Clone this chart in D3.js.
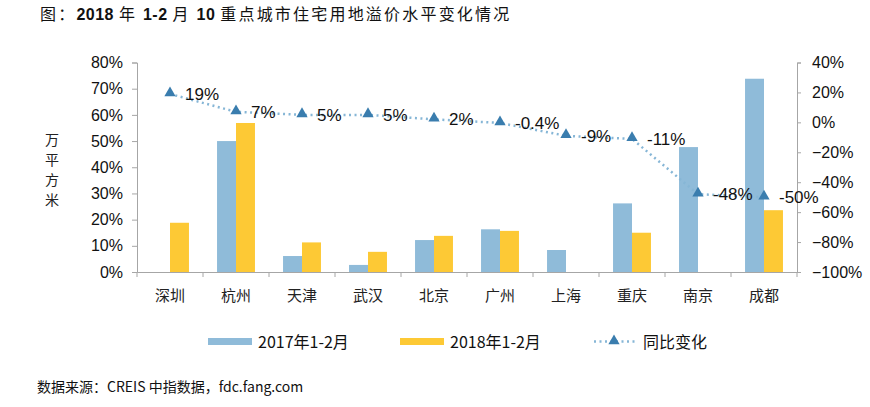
<!DOCTYPE html>
<html>
<head>
<meta charset="utf-8">
<script src="https://cdn.jsdelivr.net/npm/d3@7"></script>
<style>
  body { margin: 0; background: #fff; }
  svg { display: block; }
</style>
</head>
<body>
<div id="canvas"></div>
<script>
// data
var cities = ['深圳', '杭州', '天津', '武汉', '北京', '广州', '上海', '重庆', '南京', '成都'];
var area2017 = [0, 0.50, 0.061, 0.027, 0.122, 0.163, 0.084, 0.262, 0.477, 0.738];
var area2018 = [0.188, 0.569, 0.113, 0.077, 0.138, 0.157, 0, 0.150, 0, 0.236];
var yoyChange = [0.19, 0.07, 0.05, 0.05, 0.02, -0.004, -0.09, -0.11, -0.48, -0.50];
var yoyLabels = ['19%', '7%', '5%', '5%', '2%', '-0.4%', '-9%', '-11%', '-48%', '-50%'];
var leftTicks = [0, 0.1, 0.2, 0.3, 0.4, 0.5, 0.6, 0.7, 0.8];
var rightTicks = [-1, -0.8, -0.6, -0.4, -0.2, 0, 0.2, 0.4];

var svgWidth = 870;
var svgHeight = 407;
var blueColor = '#8FBBD9';
var yellowColor = '#FDC935';
var lineColor = '#86B6D6';
var markerColor = '#3A7DAE';
var axisColor = '#A6A6A6';
var numFont = '"Liberation Sans", Arial, sans-serif';
var cjkFont = '"Noto Sans CJK SC", sans-serif';

var svg = d3.select('#canvas')
    .append('svg')
    .attr('width', svgWidth)
    .attr('height', svgHeight);

var x = d3.scaleBand().domain(cities).range([137, 797]).paddingInner(0).paddingOuter(0);
var xInner = d3.scaleBand().domain(['a', 'b']).range([0, x.bandwidth()]).paddingOuter(0.74);
var yLeft = d3.scaleLinear().domain([0, 0.8]).range([272, 62.5]);
var yRight = d3.scaleLinear().domain([-1, 0.4]).range([272, 62.5]);
var pct = d3.format('.0%');

// title
var title = svg.append('text')
    .attr('x', 40)
    .attr('y', 20)
    .attr('font-size', '16px')
    .attr('fill', '#111');
var titleParts = [['图：', false], ['2018 ', true], ['年 ', false], ['1-2 ', true], ['月 ', false],
    ['10 ', true], ['重点城市住宅用地溢价水平变化情况', false]];
titleParts.forEach(function (p) {
    title.append('tspan')
        .text(p[0])
        .attr('font-family', p[1] ? numFont : cjkFont)
        .attr('font-weight', p[1] ? 'bold' : 'normal')
        .attr('letter-spacing', p[1] ? '0.5px' : '2.2px');
});

// bars
var rows = cities.map(function (c, i) {
    return {city: c, a: area2017[i], b: area2018[i], yoy: yoyChange[i], label: yoyLabels[i]};
});

var groups = svg.append('g').selectAll('g')
    .data(rows)
    .join('g')
    .attr('transform', function (d) { return 'translate(' + x(d.city) + ',0)'; });

groups.append('rect')
    .attr('x', xInner('a'))
    .attr('width', xInner.bandwidth())
    .attr('y', function (d) { return yLeft(d.a); })
    .attr('height', function (d) { return yLeft(0) - yLeft(d.a); })
    .attr('fill', blueColor);

groups.append('rect')
    .attr('x', xInner('b'))
    .attr('width', xInner.bandwidth())
    .attr('y', function (d) { return yLeft(d.b); })
    .attr('height', function (d) { return yLeft(0) - yLeft(d.b); })
    .attr('fill', yellowColor);

// axes
var leftAxis = svg.append('g')
    .attr('transform', 'translate(137,0)')
    .call(d3.axisLeft(yLeft).tickValues(leftTicks).tickFormat(pct).tickSize(5).tickPadding(9));

var rightAxis = svg.append('g')
    .attr('transform', 'translate(797,0)')
    .call(d3.axisRight(yRight).tickValues(rightTicks).tickFormat(pct).tickSize(4).tickPadding(11));

var bottomAxis = svg.append('g')
    .attr('transform', 'translate(0,272)')
    .call(d3.axisBottom(x).tickSize(0).tickPadding(18));

[leftAxis, rightAxis].forEach(function (a) {
    a.selectAll('path, line').attr('stroke', axisColor);
    a.selectAll('text')
        .attr('font-family', numFont)
        .attr('font-size', '16px')
        .attr('fill', '#111');
});
bottomAxis.select('.domain').attr('stroke', axisColor);
bottomAxis.selectAll('text')
    .attr('font-family', cjkFont)
    .attr('font-size', '15px')
    .attr('fill', '#222');

// category boundary ticks
svg.append('g').selectAll('line')
    .data(cities.concat(['end']))
    .join('line')
    .attr('x1', function (d, i) { return i < cities.length ? x(d) : x.range()[1]; })
    .attr('x2', function (d, i) { return i < cities.length ? x(d) : x.range()[1]; })
    .attr('y1', 272)
    .attr('y2', 277)
    .attr('stroke', axisColor);

// left axis title
svg.append('g').selectAll('text')
    .data(['万', '平', '方', '米'])
    .join('text')
    .attr('x', 52)
    .attr('y', function (d, i) { return 145 + i * 20; })
    .attr('text-anchor', 'middle')
    .attr('font-family', cjkFont)
    .attr('font-size', '14px')
    .attr('fill', '#222')
    .text(function (d) { return d; });

// yoy line
var cx = function (d) { return x(d.city) + x.bandwidth() / 2; };
var line = d3.line()
    .x(cx)
    .y(function (d) { return yRight(d.yoy); });

svg.append('path')
    .datum(rows)
    .attr('d', line)
    .attr('fill', 'none')
    .attr('stroke', lineColor)
    .attr('stroke-width', 2.5)
    .attr('stroke-dasharray', '2,3.5');

var tri = d3.symbol().type(d3.symbolTriangle).size(55);
svg.append('g').selectAll('path')
    .data(rows)
    .join('path')
    .attr('d', tri)
    .attr('transform', function (d) { return 'translate(' + cx(d) + ',' + (yRight(d.yoy) - 1) + ')'; })
    .attr('fill', markerColor);

svg.append('g').selectAll('text')
    .data(rows)
    .join('text')
    .attr('x', function (d) { return cx(d) + 15; })
    .attr('y', function (d) { return yRight(d.yoy) + 6; })
    .attr('font-family', numFont)
    .attr('font-size', '17px')
    .attr('fill', '#111')
    .text(function (d) { return d.label; });

// legend
var legend = svg.append('g');
legend.append('rect').attr('x', 208).attr('y', 338).attr('width', 44).attr('height', 7).attr('fill', blueColor);
legend.append('rect').attr('x', 400).attr('y', 338).attr('width', 44).attr('height', 7).attr('fill', yellowColor);
legend.append('line')
    .attr('x1', 594).attr('x2', 635).attr('y1', 341.5).attr('y2', 341.5)
    .attr('stroke', lineColor).attr('stroke-width', 2.5).attr('stroke-dasharray', '2,3.5');
legend.append('path')
    .attr('d', tri)
    .attr('transform', 'translate(614,341)')
    .attr('fill', markerColor);

var legendItems = [[258, '2017年1-2月'], [450, '2018年1-2月'], [643, '同比变化']];
legend.selectAll('text')
    .data(legendItems)
    .join('text')
    .attr('x', function (d) { return d[0]; })
    .attr('y', 348)
    .attr('font-family', '"Liberation Sans Narrow", "Noto Sans CJK SC", sans-serif')
    .attr('font-size', '16px')
    .attr('fill', '#111')
    .text(function (d) { return d[1]; });

// source
svg.append('text')
    .attr('x', 37)
    .attr('y', 392)
    .attr('font-family', cjkFont)
    .attr('font-size', '14px')
    .attr('fill', '#111')
    .text('数据来源：CREIS 中指数据，fdc.fang.com');
</script>
</body>
</html>
